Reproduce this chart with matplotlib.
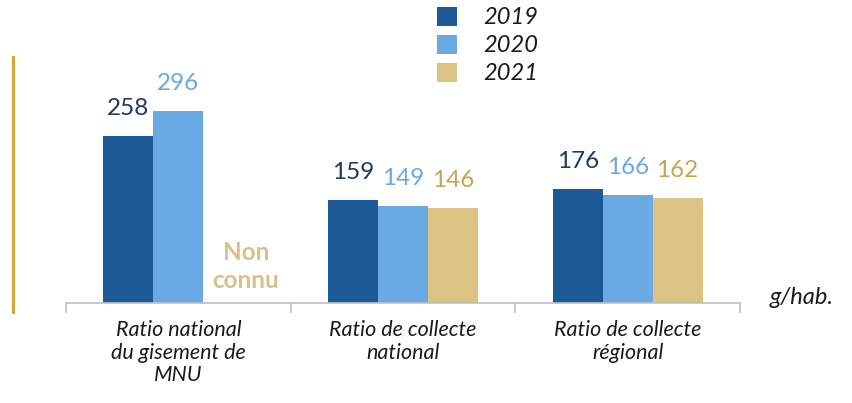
import matplotlib
matplotlib.use("Agg")
import matplotlib.pyplot as plt
from matplotlib.patches import Rectangle
from matplotlib.lines import Line2D

categories = ["Ratio national\ndu gisement de\nMNU", "Ratio de collecte\nnational", "Ratio de collecte\nrégional"]
years = ["2019", "2020", "2021"]
v2019 = [258, 159, 176]
v2020 = [296, 149, 166]
v2021 = [None, 146, 162]

bar_colors = ["#1B5A96", "#6AAAE4", "#DBC384"]
label_colors = ["#1F3A5F", "#6AAAE4", "#C9A453"]

plt.rcParams['font.family'] = ['Lato', 'DejaVu Sans']

fig = plt.figure(figsize=(8.52, 4.03), dpi=100)
scale = 0.648
ax = fig.add_axes([66/852, 1-303/403, (740-66)/852, 303/403])
ymax = 303/scale
ax.set_ylim(0, ymax)
ax.set_xlim(-0.5, 2.5)

w = 50/224.67
series = [v2019, v2020, v2021]
for si, vals in enumerate(series):
    for ci, v in enumerate(vals):
        x = ci + (si-1)*w
        if v is None:
            continue
        ax.bar(x, v, width=w, color=bar_colors[si], linewidth=0)
        ax.text(x, v + 21/scale, str(v), ha='center', va='baseline', fontsize=17.5,
                color=label_colors[si])

# Non connu
nx = (246-66)/224.67 - 0.5
ax.text(nx, (303-252)/scale, "Non", ha='center', va='center', fontsize=17.5, fontweight='bold', color="#D9C08A")
ax.text(nx, (303-280)/scale, "connu", ha='center', va='center', fontsize=17.5, fontweight='bold', color="#D9C08A")

for s in ['top', 'right', 'left']:
    ax.spines[s].set_visible(False)
ax.spines['bottom'].set_color('#BFBFBF')
ax.spines['bottom'].set_linewidth(1.2)
ax.set_yticks([])
ax.set_xticks([-0.5, 0.5, 1.5, 2.5])
ax.set_xticklabels([])
ax.tick_params(axis='x', length=7, color='#BFBFBF', width=1.2)
ax.patch.set_alpha(0)

for ci, c in enumerate(categories):
    fig.text((66 + 224.67*(ci+0.5))/852, 1-320/403, c, ha='center', va='top',
             fontsize=15.5, style='italic', color='#1a1a1a', linespacing=1.17)

# gold vertical line
fig.add_artist(Line2D([13/852, 13/852], [1-57/403, 1-312/403], color='#D4A537', lw=2.2))

# legend
for i, (yr, col) in enumerate(zip(years, bar_colors)):
    ytop = 7 + i*28
    fig.add_artist(Rectangle((437/852, 1-(ytop+19)/403), 20/852, 19/403,
                             facecolor=col, edgecolor='none', transform=fig.transFigure))
    fig.text(483/852, 1-(ytop+10)/403, yr, ha='left', va='center', fontsize=17,
             style='italic', color='#1a1a1a')

fig.text(770/852, 1-298/403, "g/hab.", ha='left', va='center', fontsize=17,
         style='italic', color='#1a1a1a')

fig.savefig("out.png", dpi=100)
